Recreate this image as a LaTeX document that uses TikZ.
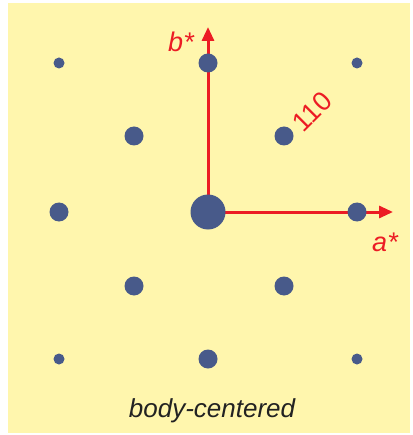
\documentclass[tikz,border=0pt]{standalone}
\usepackage{fontspec}
\setmainfont{Liberation Sans}
\usetikzlibrary{arrows.meta}
\definecolor{bgyellow}{RGB}{255,246,173}
\definecolor{dotblue}{RGB}{72,90,138}
\definecolor{axred}{RGB}{236,28,36}
\definecolor{txtdark}{RGB}{34,34,34}
\begin{document}
\begin{tikzpicture}[x=1pt,y=-1pt,
  dot/.style={circle,fill=dotblue,inner sep=0pt,minimum size=#1},
  axis/.style={draw=axred,line width=3pt,-{Triangle[length=14pt,width=12pt]}},
  lbl/.style={text=axred,inner sep=0pt,font=\fontsize{27}{32}\selectfont}]
\useasboundingbox (0,0) rectangle (412,435);
\fill[bgyellow] (8,3) rectangle (410,433);
% axes
\coordinate (o) at (208,212);
\coordinate (btip) at (208,27);
\coordinate (atip) at (393,212);
\draw[axis] (o) -- (btip);
\draw[axis] (o) -- (atip);
% lattice points
\node[dot=35pt] (c) at (208,212) {};
\node[dot=19pt] (t) at (208,63) {};
\node[dot=19pt] (bm) at (208,359) {};
\node[dot=19pt] (l) at (59,212) {};
\node[dot=19pt] (r) at (357,212) {};
\node[dot=19pt] (d1) at (134,136) {};
\node[dot=19pt] (d2) at (284,136) {};
\node[dot=19pt] (d3) at (134,286) {};
\node[dot=19pt] (d4) at (284,286) {};
\node[dot=11pt] (k1) at (59,63) {};
\node[dot=11pt] (k2) at (357,63) {};
\node[dot=11pt] (k3) at (59,359) {};
\node[dot=11pt] (k4) at (357,359) {};
% labels
\node[lbl,anchor=base] (bl) at (181,52) {\itshape b*};
\node[lbl,anchor=base] (al) at (385,251) {\itshape a*};
\node[lbl,rotate=45] (hkl) at (312,112) {110};
\node[inner sep=0pt,anchor=base,text=txtdark,font=\fontsize{26}{31}\selectfont\itshape] (cap) at (212,417) {body-centered};
\end{tikzpicture}
\end{document}
